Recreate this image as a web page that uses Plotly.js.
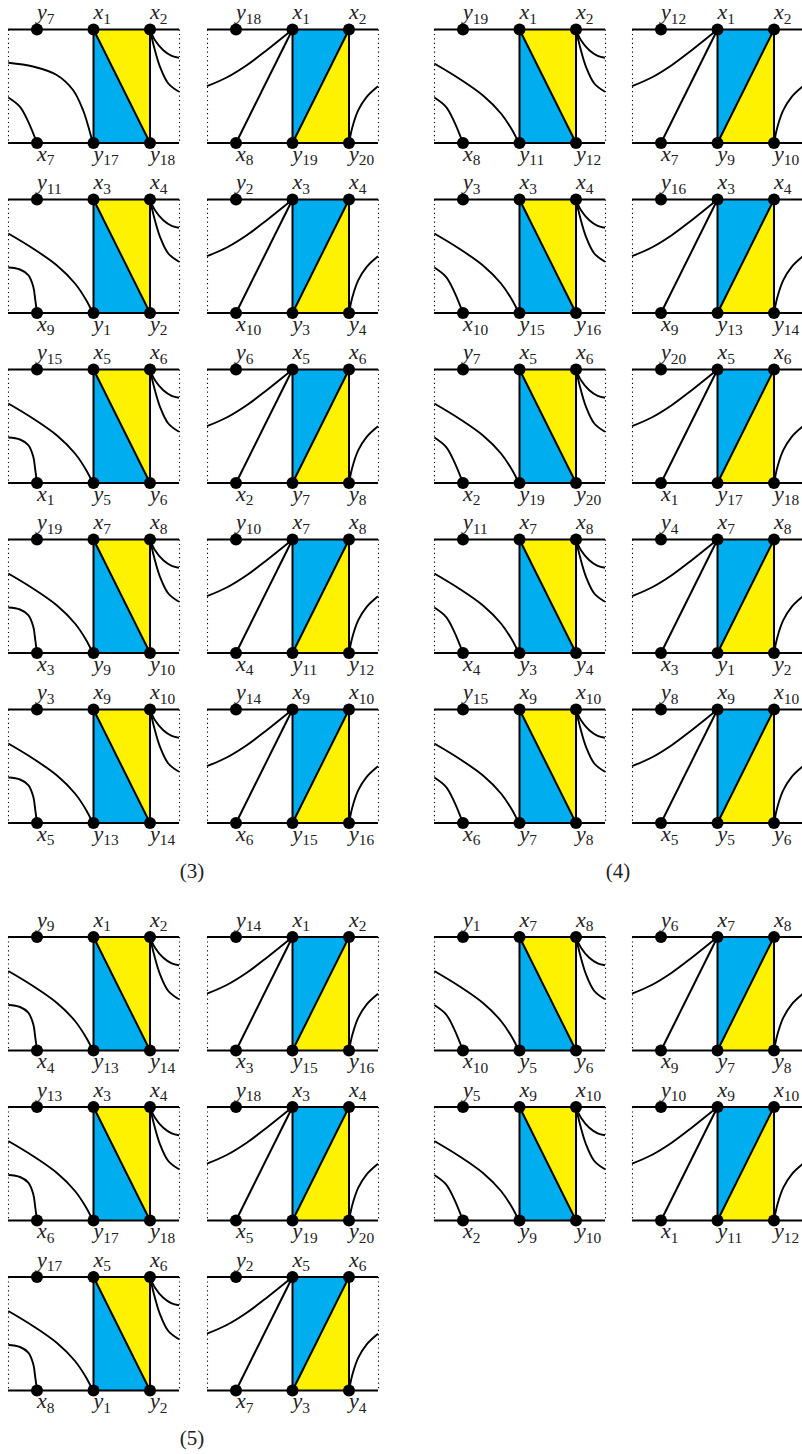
<!DOCTYPE html>
<html><head><meta charset="utf-8">
<script src="https://cdn.plot.ly/plotly-3.0.1.min.js"></script>
<style>html,body{margin:0;padding:0;background:#fff}#chart{width:802px;height:1454px}</style>
</head><body><div id="chart"></div>
<script>
// Node labels, one string per panel: top-left, top-mid, top-right, bottom-left, bottom-mid, bottom-right
const labelsColA = ['y7 x1 x2 x7 y17 y18','y11 x3 x4 x9 y1 y2','y15 x5 x6 x1 y5 y6','y19 x7 x8 x3 y9 y10','y3 x9 x10 x5 y13 y14'];
const labelsColB = ['y18 x1 x2 x8 y19 y20','y2 x3 x4 x10 y3 y4','y6 x5 x6 x2 y7 y8','y10 x7 x8 x4 y11 y12','y14 x9 x10 x6 y15 y16'];
const labelsColC = ['y19 x1 x2 x8 y11 y12','y3 x3 x4 x10 y15 y16','y7 x5 x6 x2 y19 y20','y11 x7 x8 x4 y3 y4','y15 x9 x10 x6 y7 y8'];
const labelsColD = ['y12 x1 x2 x7 y9 y10','y16 x3 x4 x9 y13 y14','y20 x5 x6 x1 y17 y18','y4 x7 x8 x3 y1 y2','y8 x9 x10 x5 y5 y6'];
const labelsColA5 = ['y9 x1 x2 x4 y13 y14','y13 x3 x4 x6 y17 y18','y17 x5 x6 x8 y1 y2'];
const labelsColB5 = ['y14 x1 x2 x3 y15 y16','y18 x3 x4 x5 y19 y20','y2 x5 x6 x7 y3 y4'];
const labelsColC5 = ['y1 x7 x8 x10 y5 y6','y5 x9 x10 x2 y9 y10'];
const labelsColD5 = ['y6 x7 x8 x9 y7 y8','y10 x9 x10 x1 y11 y12'];
const captions = ['(3)','(4)','(5)'];

// Curves, relative to a panel's left end and top line
const curveLongBulgeX = [0.3,25,48.7,65,75,82,84.7];
const curveLongBulgeY = [33.2,37,45.5,60.5,80.5,103,113.5];
const curveLongX = [0.3,25,49,67,79,84.7];
const curveLongY = [34,49,66,84,102,113.5];
const curveShortSlopeX = [0.3,12,20.3,29];
const curveShortSlopeY = [68,77.3,92.3,113.5];
const curveShortHookX = [0.3,12,20.3,25.3,27.3,29];
const curveShortHookY = [68,70,75.7,87.3,100.7,113.5];
const stubUpperX = [142,147,155.3,163.7,171];
const stubUpperY = [0,10.7,20.7,26.3,28.3];
const stubLowerX = [142,146,152,160.3,171];
const stubLowerY = [0,17.3,37.3,54,62.3];
const fanCurveX = [0,19.7,39.7,59.7,85.5];
const fanCurveY = [56.7,48,35.7,20.7,0];
const riseCurveX = [142,145.5,151.3,159.7,171];
const riseCurveY = [113.5,97.3,80.7,67.3,56.7];

// Page geometry
const colLeft = {A:8, B:207, C:434, D:632};
const rowTops = [29.5,199.5,369.5,539.5,709.5];
const rowTops5 = [937,1107,1277];
const H = 113.5, W = 171, N = [29,85.5,142];

const panels = [];
function add(col, tops, labels, left){ labels.forEach((s,i)=>panels.push({col, x0:colLeft[col], top:tops[i], row:i, sec:tops===rowTops?3:5, left, lab:s.split(' ')})); }
add('A',rowTops,labelsColA,true); add('B',rowTops,labelsColB,false);
add('C',rowTops,labelsColC,true); add('D',rowTops,labelsColD,false);
add('A',rowTops5,labelsColA5,true); add('B',rowTops5,labelsColB5,false);
add('C',rowTops5,labelsColC5,true); add('D',rowTops5,labelsColD5,false);

const blue={x:[],y:[]}, yellow={x:[],y:[]}, straight={x:[],y:[]}, curved={x:[],y:[]}, dotted={x:[],y:[]}, dots={x:[],y:[]}, txt={x:[],y:[],t:[]};
const push=(o,xs,ys)=>{xs.forEach(v=>o.x.push(v));ys.forEach(v=>o.y.push(v));o.x.push(null);o.y.push(null);};
const fmt=s=>'<i>'+s[0]+'</i><sub>'+s.slice(1)+'</sub>';

panels.forEach(p=>{
  const x=d=>d.map(v=>p.x0+v), y=d=>d.map(v=>p.top+v);
  const [a,b,c]=N;
  if(p.left){
    push(yellow,x([b,c,c,b]),y([0,0,H,0])); push(blue,x([b,b,c,b]),y([0,H,H,0]));
    push(straight,x([b,c]),y([0,H]));
    if(p.col==='A'&&p.sec===3&&p.row===0) push(curved,x(curveLongBulgeX),y(curveLongBulgeY));
    else push(curved,x(curveLongX),y(curveLongY));
    if(p.col==='A'&&!(p.sec===3&&p.row===0)) push(curved,x(curveShortHookX),y(curveShortHookY));
    else push(curved,x(curveShortSlopeX),y(curveShortSlopeY));
    push(curved,x(stubUpperX),y(stubUpperY)); push(curved,x(stubLowerX),y(stubLowerY));
  } else {
    push(blue,x([b,c,b,b]),y([0,0,H,0])); push(yellow,x([c,c,b,c]),y([0,H,H,0]));
    push(straight,x([c,b]),y([0,H]));
    push(straight,x([a,b]),y([H,0]));
    push(curved,x(fanCurveX),y(fanCurveY)); push(curved,x(riseCurveX),y(riseCurveY));
  }
  push(straight,x([0,W]),y([0,0])); push(straight,x([0,W]),y([H,H]));
  push(straight,x([b,b]),y([0,H])); push(straight,x([c,c]),y([0,H]));
  push(dotted,x([0.5,0.5]),y([0,H])); push(dotted,x([W+0.5,W+0.5]),y([0,H]));
  [a,b,c].forEach((n,i)=>{
    dots.x.push(p.x0+n,p.x0+n); dots.y.push(p.top,p.top+H);
    txt.x.push(p.x0+n,p.x0+n); txt.y.push(p.top-16,p.top+H+12);
    txt.t.push(fmt(p.lab[i]),fmt(p.lab[i+3]));
  });
});

const lineBase={mode:'lines',hoverinfo:'skip',showlegend:false,type:'scatter'};
const traces=[
 {...lineBase,...blue,fill:'toself',fillcolor:'#00AEEF',line:{width:0},connectgaps:false},
 {...lineBase,...yellow,fill:'toself',fillcolor:'#FFF200',line:{width:0},connectgaps:false},
 {...lineBase,...dotted,line:{color:'#000',width:1.1,dash:'1.2px,3.2px'}},
 {...lineBase,...straight,line:{color:'#000',width:2}},
 {...lineBase,...curved,line:{color:'#000',width:1.9,shape:'spline',smoothing:1}},
 {type:'scatter',mode:'markers',hoverinfo:'skip',showlegend:false,...dots,marker:{color:'#000',size:12,line:{width:0}}},
 {type:'scatter',mode:'text',hoverinfo:'skip',showlegend:false,x:txt.x,y:txt.y,text:txt.t,textposition:'middle right',
  textfont:{family:'"Liberation Serif",serif',size:22,color:'#222'}},
 {type:'scatter',mode:'text',hoverinfo:'skip',showlegend:false,x:[192,618,192],y:[873,873,1440],text:captions,textposition:'middle center',
  textfont:{family:'"Liberation Serif",serif',size:21,color:'#222'}}
];
const noAxis={visible:false,showgrid:false,zeroline:false,fixedrange:true};
Plotly.newPlot('chart',traces,{
  width:802,height:1454,margin:{l:0,r:0,t:0,b:0},paper_bgcolor:'#fff',plot_bgcolor:'#fff',showlegend:false,
  xaxis:{...noAxis,range:[0,802]},yaxis:{...noAxis,range:[1454,0]}
},{displayModeBar:false,staticPlot:true});
</script></body></html>
